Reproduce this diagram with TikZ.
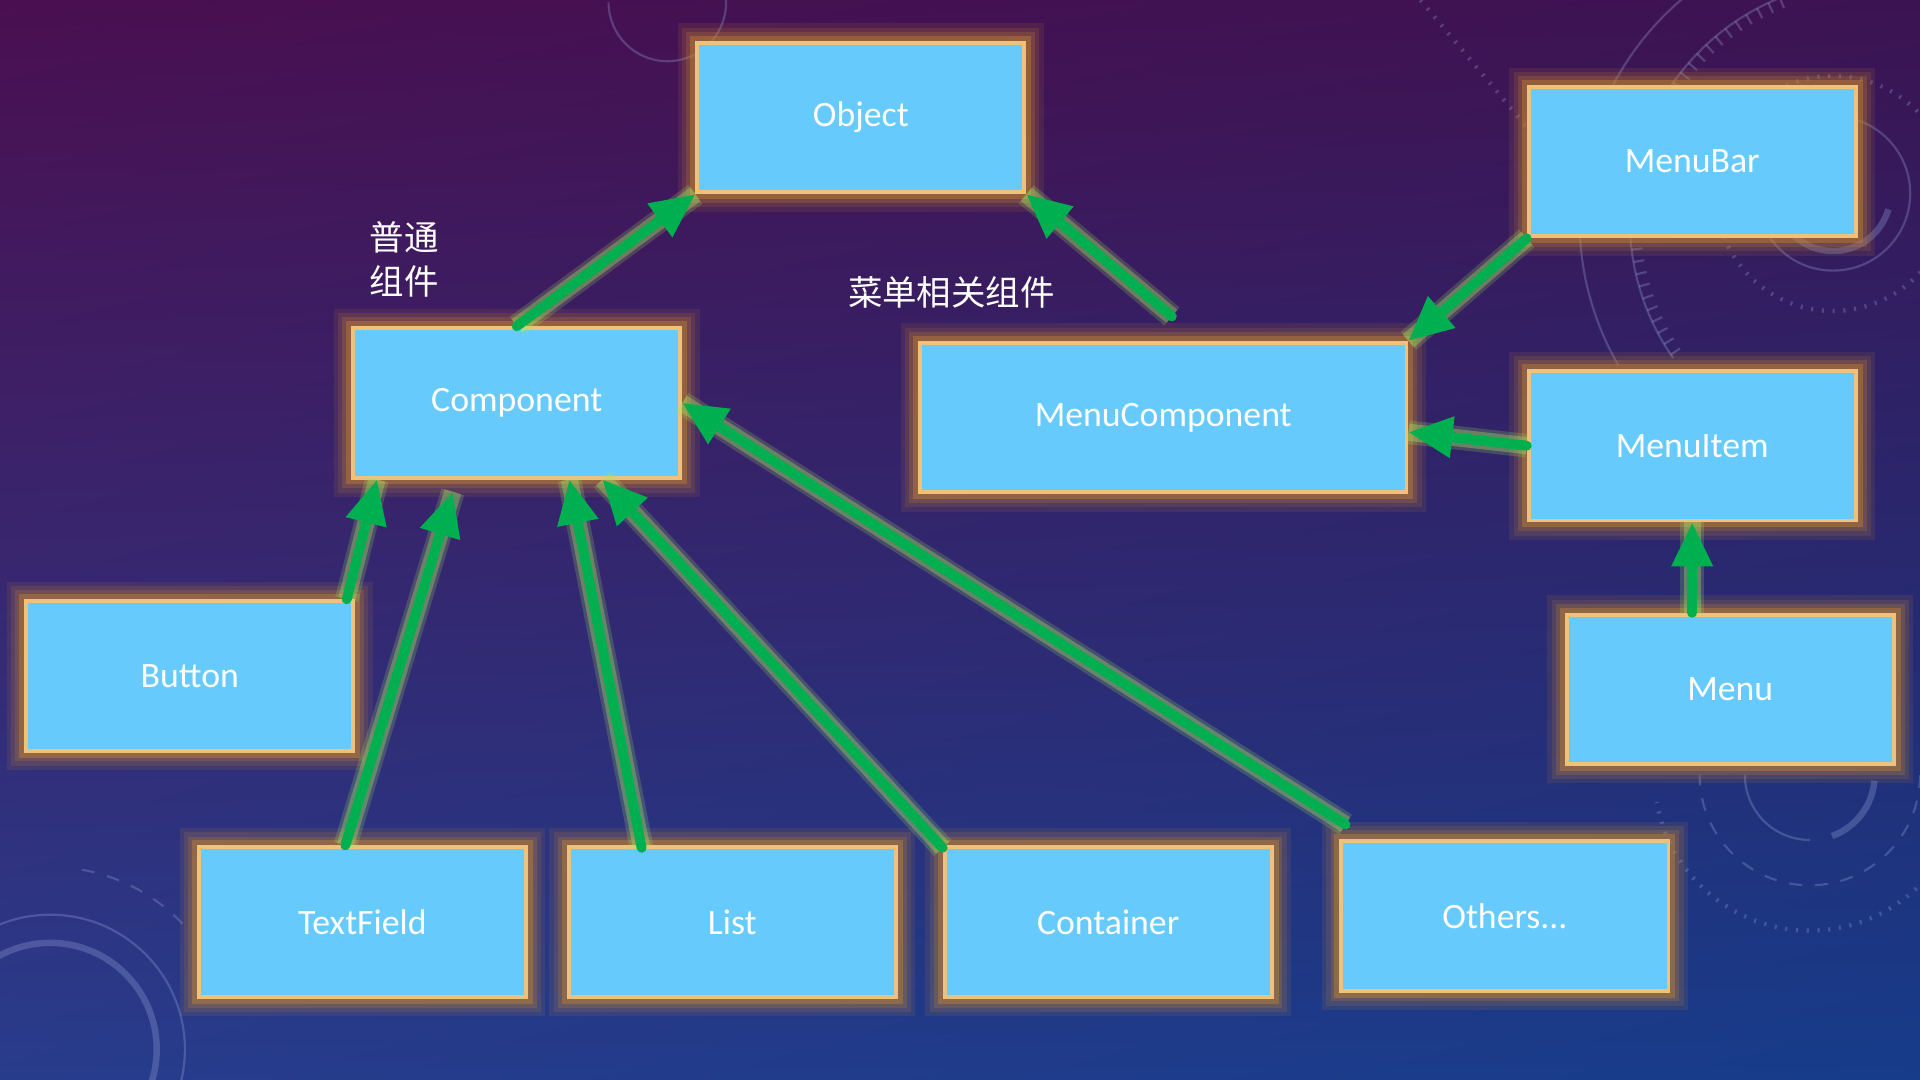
\documentclass[tikz,border=0pt]{standalone}
\usepackage{fontspec}
\setmainfont{Carlito}
\newfontfamily\cjk{Noto Sans CJK SC}
\usetikzlibrary{arrows.meta,shadings}
\definecolor{boxfill}{HTML}{66CAFC}
\definecolor{boxline}{HTML}{EEC27A}
\definecolor{glowc}{HTML}{C8862E}
\definecolor{arrowc}{HTML}{00B050}
\definecolor{arrowglow}{HTML}{A8E860}
\definecolor{bgtl}{HTML}{4A0F50}
\definecolor{bgtr}{HTML}{3C1352}
\definecolor{bgbl}{HTML}{283C8C}
\definecolor{bgbr}{HTML}{163C8A}
\definecolor{decoc}{HTML}{9AA8DC}
\begin{document}
\begin{tikzpicture}[x=0.01cm, y=-0.01cm,
  cls/.style={draw=boxline, fill=boxfill, line width=0.9pt, minimum width=2.67cm, minimum height=1.22cm,
    text=white, font=\fontsize{8.3}{10}\selectfont,
    preaction={draw=glowc, line width=9pt, opacity=0.12},
    preaction={draw=glowc, line width=7pt, opacity=0.15},
    preaction={draw=glowc, line width=5pt, opacity=0.22},
    preaction={draw=glowc, line width=3.2pt, opacity=0.4}},
  inh/.style={-{Triangle[length=0.36cm,width=0.32cm]}, draw=arrowc, line width=2.3pt, line cap=round,
    preaction={draw=arrowglow, line width=5.5pt, opacity=0.2, -},
    preaction={draw=arrowglow, line width=4pt, opacity=0.35, -}},
  note/.style={text=white, align=left, font=\cjk\fontsize{8}{10.2}\selectfont},
  deco/.style={draw=decoc, opacity=0.3, line width=0.5pt}]
\useasboundingbox (0,0) rectangle (1568,882);
% background
\shade[upper left=bgtl, upper right=bgtr, lower left=bgbl, lower right=bgbr] (0,0) rectangle (1568,882);
\begin{scope}
\clip (0,0) rectangle (1568,882);
\draw[deco] (545,2) ++(180:48) arc (180:-10:48);
\draw[deco, dotted, line width=1pt] (1160,0) -- (1247,104);
\draw[deco] (1527,180) ++(150:237) arc (150:240:237);
\draw[deco] (1527,180) ++(145:196) arc (145:250:196);
\foreach \a in {146,149,...,248} \draw[deco] (1527,180) ++(\a:196) -- ++(\a:-9);
\draw[deco] (1497,158) circle (63);
\draw[deco, line width=1.5pt] (1497,158) ++(16:47) arc (16:150:47);
\draw[deco, dotted, line width=1pt] (1497,158) circle (96);
\draw[deco] (1478,633) ++(90:53) arc (90:180:53);
\draw[deco, line width=1.5pt] (1478,633) ++(5:53) arc (5:70:53);
\draw[deco, dashed] (1478,633) ++(0:90) arc (0:180:90);
\draw[deco, dotted, line width=1pt] (1478,633) ++(15:127) arc (15:170:127);
\draw[deco, line width=1.5pt] (41,857) circle (87);
\draw[deco] (41,857) circle (110);
\draw[deco, dashed] (41,857) ++(-80:149) arc (-80:-40:149);
\end{scope}
% classes
\node[cls] (obj) at (703,96) {Object};
\node[cls] (bar) at (1382,132) {MenuBar};
\node[cls] (comp) at (422,329) {Component};
\node[cls, minimum width=3.97cm] (mc) at (950,341) {MenuComponent};
\node[cls] (item) at (1382,364) {MenuItem};
\node[cls] (btn) at (155,552) {Button};
\node[cls] (menu) at (1413,563) {Menu};
\node[cls] (tf) at (296,753) {TextField};
\node[cls] (lst) at (598,753) {List};
\node[cls] (cont) at (905,753) {Container};
\node[cls] (oth) at (1229,748) {Others...};
% notes
\node[note] (n1) at (330,212) {普通\\组件};
\node[note] (n2) at (777,239) {菜单相关组件};
% inheritance
\draw[inh] (comp.north) -- (obj.south west);
\draw[inh] ([shift={(7,-20)}]mc.north) -- (obj.south east);
\draw[inh] (bar.south west) -- (mc.north east);
\draw[inh] (item.west) -- ([shift={(0,12)}]mc.east);
\draw[inh] (item.south |- menu.north) -- (item.south);
\draw[inh] ([shift={(-7,0)}]btn.north east) -- ([shift={(21,0)}]comp.south west);
\draw[inh] ([shift={(-14,0)}]tf.north) -- ([shift={(83,10)}]comp.south west);
\draw[inh] ([shift={(-74,2)}]lst.north) -- ([shift={(43,0)}]comp.south);
\draw[inh] ([shift={(0,2)}]cont.north west) -- ([shift={(70,0)}]comp.south);
\draw[inh] ([shift={(5,-12)}]oth.north west) -- (comp.east);
\end{tikzpicture}
\end{document}
